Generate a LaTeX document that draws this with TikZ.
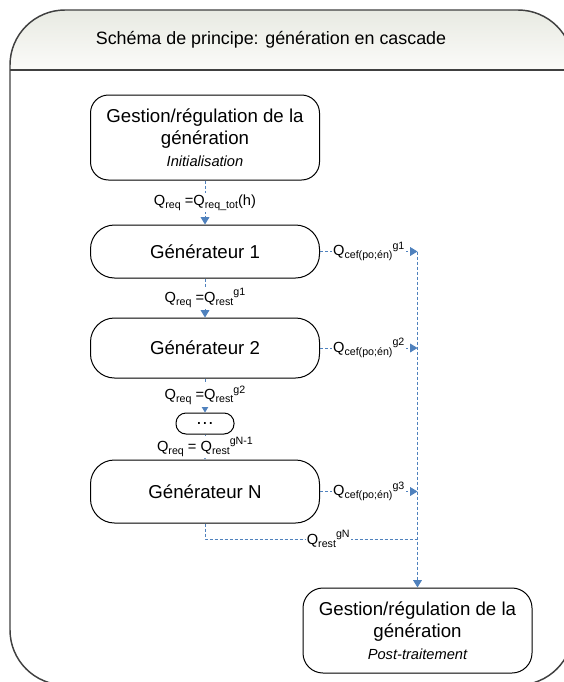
\documentclass[tikz,border=0pt]{standalone}
\usepackage{fontspec}
\setmainfont{Liberation Sans}
\usetikzlibrary{arrows.meta,positioning}
\definecolor{flow}{HTML}{4F81BD}
\definecolor{rim}{HTML}{404040}
\definecolor{headtop}{HTML}{E8EAE2}
\definecolor{headbot}{HTML}{FBFBF9}
\newlength\px \setlength\px{0.75pt}
\newcommand\lo[1]{\raisebox{-.4ex}{\fontsize{8}{9}\selectfont#1}}
\newcommand\hi[1]{\raisebox{.85ex}{\fontsize{8}{9}\selectfont#1}}

\begin{document}
\begin{tikzpicture}[x=0.75pt,y=-0.75pt,block/.style={draw=black,line width=.75pt,fill=white,rounded corners=24\px,minimum width=229\px,inner sep=0pt,align=center,font=\fontsize{14}{16.5}\selectfont},flowline/.style={flow,line width=.75pt,dash pattern=on 2.25pt off 1.5pt},feed/.style={flowline,-{Triangle[length=5.5pt,width=6.5pt]}},qlabel/.style={fill=white,text=black,inner sep=1pt,font=\fontsize{11}{13}\selectfont}]
 \useasboundingbox (0,0) rectangle (564,682);
 \begin{scope}
  \clip[rounded corners=55\px] (10,10) rectangle (573,685);
  \shade[top color=headtop,bottom color=headbot] (10,10) rectangle (573,70);
 \end{scope}
 \draw[rim,line width=1.1pt,rounded corners=55\px] (10,10) rectangle (573,685);
 \draw[rim,line width=1.1pt] (10,70) -- (573,70);
 \node[font=\fontsize{13.4}{16}\selectfont] (title) at (271,40) {Schéma de principe: génération en cascade};
 \node[block,rounded corners=18\px,minimum height=85\px] (init) at (205,137.5) {Gestion/régulation de la\\génération\\{\fontsize{11}{13}\selectfont\itshape Initialisation}};
 \node[block,minimum height=53\px] (gen1) at (205,251.5) {Générateur 1};
 \node[block,minimum height=60\px] (gen2) at (205,348) {Générateur 2};
 \node[block,rounded corners=10\px,minimum width=58\px,minimum height=21\px] (dots) at (205,423.5) {…};
 \node[block,minimum height=63\px] (genN) at (205,491.5) {Générateur N};
 \node[block,rounded corners=20\px,minimum height=85\px] (post) at (417.5,630.5) {Gestion/régulation de la\\génération\\{\fontsize{11}{13}\selectfont\itshape Post-traitement}};
 \draw[feed] (init) -- node[qlabel] (q0) {Q\lo{req} =Q\lo{req\_tot}(h)} (gen1);
 \draw[feed] (gen1) -- node[qlabel] (q1) {Q\lo{req} =Q\lo{rest}\hi{g1}} (gen2);
 \draw[feed] (gen2) -- node[qlabel] (q2) {Q\lo{req} =Q\lo{rest}\hi{g2}} (dots);
 \draw[feed] (dots) -- node[qlabel] (q3) {Q\lo{req} = Q\lo{rest}\hi{gN-1}} (genN);
 \coordinate (c1) at (post.north |- gen1.east);
 \coordinate (c2) at (post.north |- gen2.east);
 \coordinate (c3) at (post.north |- genN.east);
 \coordinate (c4) at (post.north |- 0,539);
 \draw[feed] (gen1) -- node[qlabel] (e1) {Q\lo{cef(po;én)}\hi{g1}} (c1);
 \draw[feed] (gen2) -- node[qlabel] (e2) {Q\lo{cef(po;én)}\hi{g2}} (c2);
 \draw[feed] (genN) -- node[qlabel] (e3) {Q\lo{cef(po;én)}\hi{g3}} (c3);
 \draw[feed] (c1) -- (post);
 \draw[flowline] (genN) |- node[qlabel,pos=.79] (r) {Q\lo{rest}\hi{gN}} (c4);
\end{tikzpicture}
\end{document}
